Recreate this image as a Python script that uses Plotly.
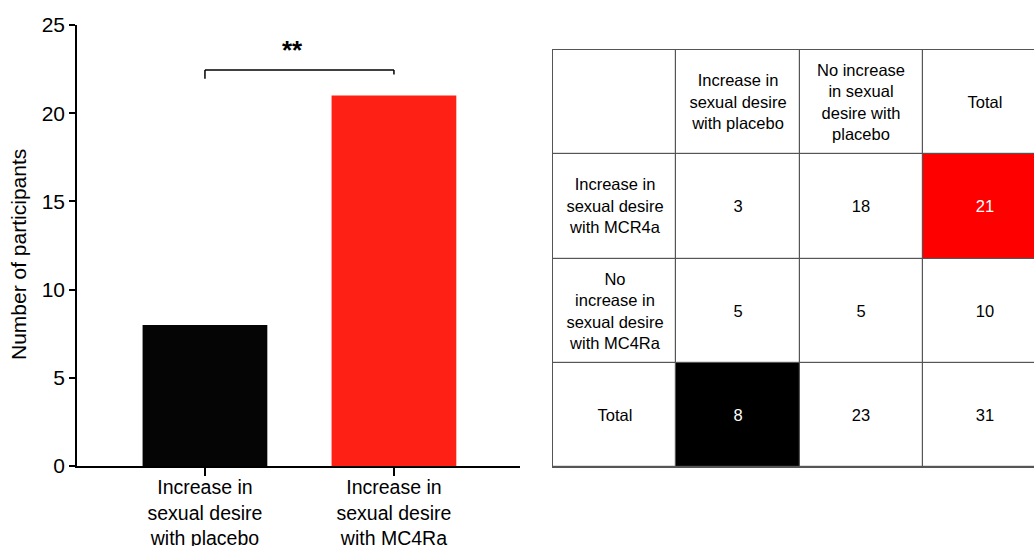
import plotly.graph_objects as go

# ---------------- data ----------------
bar_categories = ["Increase in<br>sexual desire<br>with placebo",
                  "Increase in<br>sexual desire<br>with MC4Ra"]
bar_values = [8, 21]
bar_colors = ["#050505", "#ff2015"]
y_ticks = [0, 5, 10, 15, 20, 25]
signif_label = "**"

col_headers = ["", "Increase in<br>sexual desire<br>with placebo",
               "No increase<br>in sexual<br>desire with<br>placebo", "Total"]
row_headers = ["Increase in<br>sexual desire<br>with MCR4a",
               "No<br>increase in<br>sexual desire<br>with MC4Ra", "Total"]
table_values = [[3, 18, 21],
                [5, 5, 10],
                [8, 23, 31]]
# highlight code: 0 white, 1 red, 2 black
table_highlight = [[0, 0, 1],
                   [0, 0, 0],
                   [2, 0, 0]]

FONT = "Arial, Liberation Sans, sans-serif"
W, H = 1034, 546
BORDER = "#555555"

fig = go.Figure()

# ---------------- bar chart ----------------
fig.add_trace(go.Bar(x=[0, 1], y=bar_values, marker=dict(color=bar_colors, line=dict(width=0)),
                     width=0.66, xaxis="x", yaxis="y", hoverinfo="skip", showlegend=False))

# significance bracket derived from data
top = max(bar_values)
y_bar = top + 1.45
fig.add_shape(type="line", xref="x", yref="y", x0=0, x1=1, y0=y_bar, y1=y_bar,
              line=dict(color="black", width=1.5))
fig.add_shape(type="line", xref="x", yref="y", x0=0, x1=0, y0=y_bar, y1=top + 0.95,
              line=dict(color="black", width=1.5))
fig.add_shape(type="line", xref="x", yref="y", x0=1, x1=1, y0=y_bar, y1=top + 1.2,
              line=dict(color="black", width=1.5))
fig.add_annotation(x=0.465, y=y_bar + 1.15, xref="x", yref="y", text="<b>" + signif_label + "</b>",
                   showarrow=False, font=dict(family=FONT, size=26, color="black"))

fig.add_annotation(x=18 / W, y=1 - 255 / H, xref="paper", yref="paper", xanchor="center",
                   yanchor="middle", text="Number of participants", textangle=-90,
                   showarrow=False, font=dict(family=FONT, size=21, color="black"))

# ---------------- table as heatmap ----------------
z, txt = [], []
z.append([0, 0, 0, 0])
txt.append(col_headers)
for i, rh in enumerate(row_headers):
    zr, tr = [0], [rh]
    for j, v in enumerate(table_values[i]):
        h = table_highlight[i][j]
        zr.append(h)
        tr.append(f"<span style='color:white'>{v}</span>" if h else str(v))
    z.append(zr)
    txt.append(tr)

# dark background behind the table cells -> visible as borders through the gaps
fig.add_shape(type="rect", xref="x2 domain", yref="y2 domain", x0=0, x1=1, y0=0, y1=1,
              fillcolor=BORDER, line=dict(width=0), layer="below")

fig.add_trace(go.Heatmap(z=z, text=txt, texttemplate="%{text}", x0=0.5, dx=1, y0=0.5, dy=1,
                         colorscale=[[0, "#ffffff"], [0.5, "#ff0000"], [1, "#000000"]],
                         zmin=0, zmax=2, showscale=False, xgap=1.2, ygap=1.2,
                         textfont=dict(family=FONT, size=16.5, color="black"),
                         hoverinfo="skip", xaxis="x2", yaxis="y2"))

cell_w = 123.3
fig.update_layout(
    width=W, height=H, margin=dict(l=0, r=0, t=0, b=0, autoexpand=False),
    paper_bgcolor="white", plot_bgcolor="white",
    font=dict(family=FONT, color="black"),
    bargap=0.34,
    xaxis=dict(domain=[77 / W, 520 / W], range=[-0.677, 1.667], tickmode="array",
               tickvals=[0, 1], ticktext=bar_categories, ticks="outside", ticklen=8,
               tickwidth=2, tickcolor="black", showline=True, linecolor="black", linewidth=2,
               showgrid=False, zeroline=False, tickfont=dict(size=19.5, family=FONT, color="black"),
               ticklabelstandoff=-5, fixedrange=True, automargin=False),
    yaxis=dict(domain=[1 - 466 / H, 1 - 25 / H], range=[0, 25], tickvals=y_ticks,
               ticks="outside", ticklen=6, tickwidth=1.5, tickcolor="black", showline=True,
               linecolor="black", linewidth=1.5, showgrid=False, zeroline=False,
               tickfont=dict(size=21, family=FONT, color="black"), fixedrange=True,
               automargin=False),
    xaxis2=dict(domain=[553 / W, 1], range=[0, (W - 553) / cell_w], showgrid=False,
                zeroline=False, showticklabels=False, ticks="", showline=True, mirror=True,
                linecolor=BORDER, linewidth=1, anchor="y2", fixedrange=True, automargin=False),
    yaxis2=dict(domain=[1 - 467 / H, 1 - 50 / H], range=[4, 0], showgrid=False,
                zeroline=False, showticklabels=False, ticks="", showline=True,
                linecolor=BORDER, linewidth=1, anchor="x2", fixedrange=True, automargin=False),
)
fig.write_html("out.html")
